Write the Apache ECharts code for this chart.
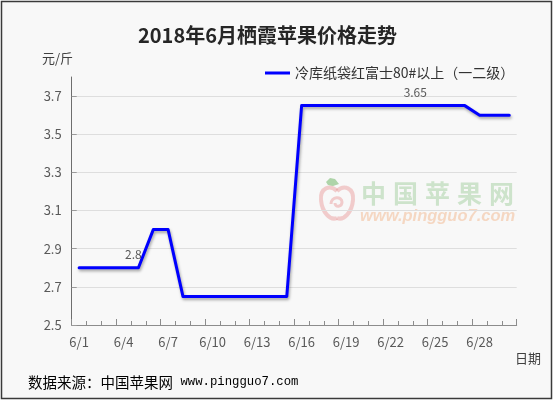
<!DOCTYPE html>
<html>
<head>
<meta charset="utf-8">
<script src="https://cdn.jsdelivr.net/npm/echarts@6/dist/echarts.min.js"></script>
<style>
  html, body { margin: 0; padding: 0; background: #ffffff; }
  #chart { width: 554px; height: 402px; }
</style>
</head>
<body>
<div id="chart"></div>
<script>
// 栖霞冷库纸袋红富士 80# 以上（一二级）2018 年 6 月每日价格（元/斤）
const days = [
  '6/1','6/2','6/3','6/4','6/5','6/6','6/7','6/8','6/9','6/10',
  '6/11','6/12','6/13','6/14','6/15','6/16','6/17','6/18','6/19','6/20',
  '6/21','6/22','6/23','6/24','6/25','6/26','6/27','6/28','6/29','6/30'
];
const prices = [
  2.8, 2.8, 2.8, 2.8, 2.8, 3.0, 3.0, 2.65, 2.65, 2.65,
  2.65, 2.65, 2.65, 2.65, 2.65, 3.65, 3.65, 3.65, 3.65, 3.65,
  3.65, 3.65, 3.65, 3.65, 3.65, 3.65, 3.65, 3.6, 3.6, 3.6
];
// points whose value is printed above the line
const labelledDays = ['6/5', '6/24'];
const seriesName = '冷库纸袋红富士80#以上（一二级）';
const yTicks = { min: 2.5, max: 3.8, step: 0.2 };

const FONT = '"Noto Sans CJK SC", "Noto Sans", sans-serif';
const chart = echarts.init(document.getElementById('chart'), null, { renderer: 'canvas' });

const seriesData = prices.map((v, i) =>
  labelledDays.includes(days[i])
    ? { value: v, label: { show: true } }
    : v
);

// watermark characters
const markChars = '中国苹果网'.split('').map((ch, i) => ({
  type: 'text', z: -5, silent: true,
  style: { x: 361 + i * 32, y: 193, text: ch, fill: 'rgba(130,190,125,0.36)',
           font: 'bold 25px ' + FONT, textAlign: 'left', textVerticalAlign: 'middle' }
}));

// apple emblem outline pieces (cubic curves, local coordinates)
const appleStroke = { fill: 'none', stroke: 'rgba(232,140,140,0.42)', lineWidth: 4 };
const curve = (x1, y1, c1x, c1y, c2x, c2y, x2, y2, w) => ({
  type: 'bezierCurve',
  shape: { x1, y1, cpx1: c1x, cpy1: c1y, cpx2: c2x, cpy2: c2y, x2, y2 },
  style: Object.assign({}, appleStroke, w ? { lineWidth: w } : {})
});

chart.setOption({
  backgroundColor: '#ffffff',
  animation: false,
  title: {
    text: '2018年6月栖霞苹果价格走势',
    left: 133, top: 20,
    textStyle: { fontFamily: FONT, fontSize: 20, fontWeight: 'bold', color: '#262626' }
  },
  legend: {
    data: [seriesName],
    left: 260, top: 61,
    icon: 'rect', itemWidth: 25, itemHeight: 3, itemGap: 6,
    textStyle: { fontFamily: FONT, fontSize: 14, color: '#333333' }
  },
  grid: { left: 71.7, right: 37.3, top: 77, bottom: 77, containLabel: false },
  xAxis: [
    {
      type: 'category', data: days, boundaryGap: true, position: 'bottom',
      axisLine: { show: true, lineStyle: { color: '#8c8c8c', width: 1 } },
      axisTick: { show: true, inside: true, interval: 0, length: 4, lineStyle: { color: '#8c8c8c' } },
      axisLabel: { interval: 2, color: '#595959', fontFamily: FONT, fontSize: 13, margin: 11 },
      splitLine: { show: false }
    },
    {
      type: 'category', data: days, boundaryGap: true, position: 'bottom', offset: 0,
      axisLine: { show: false },
      axisTick: { show: true, inside: true, interval: 2, length: 6, lineStyle: { color: '#8c8c8c' } },
      axisLabel: { show: false },
      splitLine: { show: false }
    }
  ],
  yAxis: {
    type: 'value', min: yTicks.min, max: yTicks.max, interval: yTicks.step,
    axisLine: { show: true, lineStyle: { color: '#6e6e6e', width: 1 } },
    axisTick: { show: true, inside: true, length: 5, lineStyle: { color: '#9a9a9a' } },
    axisLabel: {
      showMaxLabel: false, color: '#595959', fontFamily: FONT, fontSize: 13, margin: 10,
      formatter: v => String(Math.round(v * 100) / 100)
    },
    splitLine: { show: true, showMaxLine: false, lineStyle: { color: '#dedede', width: 1 } }
  },
  series: [{
    name: seriesName,
    type: 'line',
    xAxisIndex: 0,
    data: seriesData,
    symbol: 'circle',
    symbolSize: 0.01,
    showSymbol: true,
    lineStyle: {
      color: '#0000ff', width: 3, cap: 'round', join: 'round',
      shadowColor: 'rgba(0,0,0,0.35)', shadowBlur: 3, shadowOffsetX: 1, shadowOffsetY: 2
    },
    itemStyle: { color: '#0000ff' },
    label: {
      show: false, position: 'top', distance: 7, offset: [-5, 0],
      color: '#595959', fontFamily: FONT, fontSize: 12
    },
    z: 3
  }],
  graphic: [
    // page panel with frame
    {
      type: 'rect', z: -10, silent: true,
      shape: { x: 1.5, y: 1.5, width: 550, height: 397 },
      style: { fill: '#f8f8f8', stroke: '#3a3a3a', lineWidth: 1.5 }
    },
    // apple emblem of the watermark
    {
      type: 'group', x: 337, y: 202, z: -5, silent: true,
      children: [
        curve(0, -11, -7, -18, -17, -14, -16, -2),
        curve(-16, -2, -15, 10, -7, 19, 0, 16),
        curve(0, 16, 7, 19, 15, 10, 16, -2),
        curve(16, -2, 17, -14, 7, -18, 0, -11),
        curve(-6, 2, -6, -6, 5, -6, 5, 0, 3),
        curve(5, 0, 5, 5, -2, 6, -2, 1, 3),
        {
          type: 'polygon',
          shape: { points: [[-11, -20], [-7, -24], [-2, -23], [2, -18], [-4, -16], [-9, -17]] },
          style: { fill: 'rgba(100,175,90,0.5)' }
        }
      ]
    },
    ...markChars,
    {
      type: 'text', z: -5, silent: true,
      style: { x: 360, y: 216, text: 'www.pingguo7.com', fill: 'rgba(240,170,120,0.42)',
               font: 'italic bold 16.5px "Liberation Sans", Arial, sans-serif',
               textAlign: 'left', textVerticalAlign: 'middle' }
    },
    // unit and axis captions
    {
      type: 'text', silent: true,
      style: { x: 42, y: 58, text: '元/斤', fill: '#404040', font: '13px ' + FONT,
               textAlign: 'left', textVerticalAlign: 'middle' }
    },
    {
      type: 'text', silent: true,
      style: { x: 515, y: 358, text: '日期', fill: '#404040', font: '13px ' + FONT,
               textAlign: 'left', textVerticalAlign: 'middle' }
    },
    // source note
    {
      type: 'text', silent: true,
      style: {
        x: 28, y: 382, textVerticalAlign: 'middle', textAlign: 'left',
        text: '{a|数据来源：中国苹果网}{b| www.pingguo7.com}',
        rich: {
          a: { fontFamily: FONT, fontSize: 14.5, color: '#333333' },
          b: { fontFamily: '"Liberation Mono", "DejaVu Sans Mono", monospace', fontSize: 12.3, color: '#333333' }
        }
      }
    }
  ]
});
</script>
</body>
</html>
